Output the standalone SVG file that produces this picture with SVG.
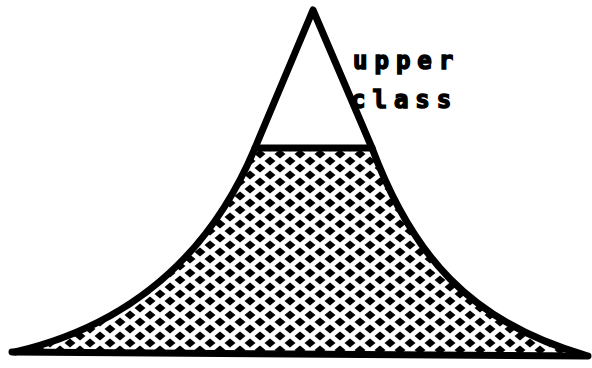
<svg xmlns="http://www.w3.org/2000/svg" width="592" height="368" viewBox="0 0 592 368">
<style>
.ln{fill:none;stroke:#000;stroke-width:7;stroke-linejoin:round;stroke-linecap:round}
.lbl{font-family:"DejaVu Sans Mono",monospace;font-weight:bold;font-size:24px;fill:#000;stroke:#000;stroke-width:1.5px;letter-spacing:7px}
</style>
<defs>
<pattern id="hatch" width="20" height="14" patternUnits="userSpaceOnUse">
<rect width="20" height="14" fill="#fff"/>
<polygon points="10,2.5 15.5,7 10,11.5 4.5,7" fill="#000"/>
<polygon points="0,-4.5 5.5,0 0,4.5 -5.5,0" fill="#000"/>
<polygon points="20,-4.5 25.5,0 20,4.5 14.5,0" fill="#000"/>
<polygon points="0,9.5 5.5,14 0,18.5 -5.5,14" fill="#000"/>
<polygon points="20,9.5 25.5,14 20,18.5 14.5,14" fill="#000"/>
</pattern>
</defs>
<rect width="592" height="368" fill="#fff"/>
<g id="lower">
<path d="M255,148 L372,148 C412,255 470,322 585,355 L15,352 C130,325 210,255 255,148 Z" fill="url(#hatch)"/>
</g>
<g id="pyramid">
<path class="ln" d="M15,352 C130,325 210,255 255,148 L313,10 L372,148 C412,255 470,322 585,355"/>
<path class="ln" d="M255,148 L372,148"/>
<path class="ln" d="M12,352 L588,356"/>
</g>
<g id="upper-class">
<text class="lbl" x="353" y="69">upper</text>
<text class="lbl" x="351" y="108">class</text>
</g>
</svg>
